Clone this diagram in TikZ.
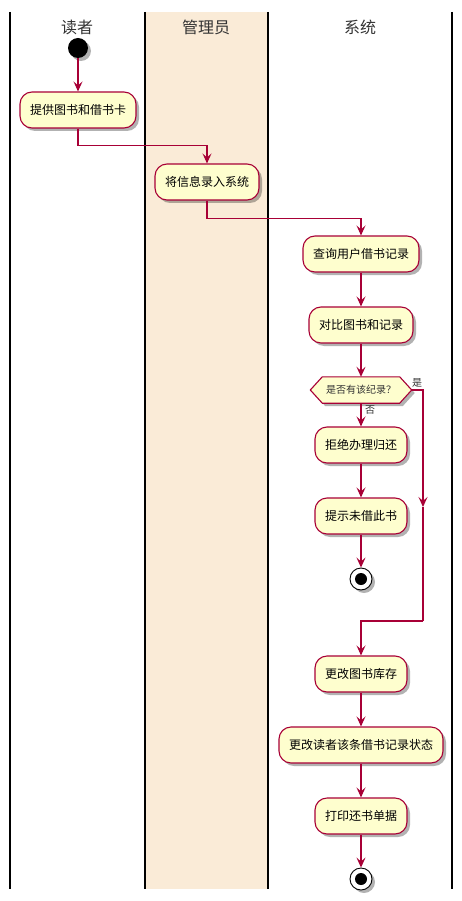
\documentclass[tikz,border=0pt]{standalone}
\usepackage{fontspec}
\newfontfamily\cjk{Noto Sans CJK SC}
\usetikzlibrary{arrows.meta,shadows,calc}
\definecolor{umlred}{HTML}{A80036}
\definecolor{umlfill}{HTML}{FEFECE}
\definecolor{lanefill}{HTML}{FAEBD7}
\begin{document}
\begin{tikzpicture}[x=1pt,y=-1pt,
  act/.style={draw=umlred, fill=umlfill, line width=1.1pt, rounded corners=12pt,
    minimum height=36pt, inner xsep=10pt, inner ysep=0pt,
    font=\cjk\fontsize{12}{14}\selectfont,
    drop shadow={shadow xshift=3pt,shadow yshift=-3pt,opacity=0.3,fill=black}},
  flow/.style={draw=umlred, line width=1.1pt, -{Stealth[length=10pt,width=9pt,inset=4pt]}},
  plainflow/.style={draw=umlred, line width=1.1pt},
  lanetitle/.style={font=\cjk\fontsize{16}{18}\selectfont, text=black!80},
  lane/.style={line width=1.4pt, draw=black},
  lbl/.style={font=\cjk\fontsize{10}{12}\selectfont, text=black!80, inner sep=0pt},
  startnode/.style={circle, fill=black, minimum size=20pt, inner sep=0pt,
    drop shadow={shadow xshift=3pt,shadow yshift=-3pt,opacity=0.3,fill=black}},
  stopnode/.style={circle, draw=black, fill=white, line width=0.9pt, minimum size=22pt, inner sep=0pt,
    drop shadow={shadow xshift=3pt,shadow yshift=-3pt,opacity=0.3,fill=black}}
]
\useasboundingbox (0,0) rectangle (462,901);
\fill[white] (0,0) rectangle (462,901);
% lanes
\fill[lanefill] (145,12) rectangle (268,889);
\draw[lane] (10,12) -- (10,889);
\draw[lane] (145,12) -- (145,889);
\draw[lane] (268,12) -- (268,889);
\draw[lane] (452,12) -- (452,889);
\node[lanetitle] (t1) at (77,27) {读者};
\node[lanetitle] (t2) at (206,27) {管理员};
\node[lanetitle] (t3) at (360,27) {系统};

% nodes
\node[startnode] (start) at (78,48) {};
\node[act] (n1) at (78,110) {提供图书和借书卡};
\node[act] (n2) at (207,182) {将信息录入系统};
\node[act] (n3) at (361,254) {查询用户借书记录};
\node[act] (n4) at (361,325) {对比图书和记录};
\node[minimum width=101pt, minimum height=26pt, inner sep=0pt] (dia) at (361,390) {};
\fill[black, opacity=0.3] ($(dia.west)+(3,3)$) -- ($(dia.north west)+(15,3)$) -- ($(dia.north east)+(-9,3)$)
   -- ($(dia.east)+(3,3)$) -- ($(dia.south east)+(-9,3)$) -- ($(dia.south west)+(15,3)$) -- cycle;
\draw[draw=umlred, fill=umlfill, line width=1.1pt] (dia.west) -- ($(dia.north west)+(12,0)$) -- ($(dia.north east)+(-12,0)$)
   -- (dia.east) -- ($(dia.south east)+(-12,0)$) -- ($(dia.south west)+(12,0)$) -- cycle;
\node[lbl] (dialbl) at (dia.center) {是否有该纪录？};
\node[act] (n5) at (361,445) {拒绝办理归还};
\node[act] (n6) at (361,516) {提示未借此书};
\node[stopnode] (end1) at (361,579) {};
\fill[black] (end1.center) circle (6pt);
\node[act] (n8) at (361,674) {更改图书库存};
\node[act] (n9) at (361,745) {更改读者该条借书记录状态};
\node[act] (n10) at (361,816) {打印还书单据};
\node[stopnode] (end2) at (361,879) {};
\fill[black] (end2.center) circle (6pt);

% connectors
\draw[flow] (start.south) -- (n1.north);
\draw[flow] (n1.south) -- ++(0,17) -| (n2.north);
\draw[flow] (n2.south) -- ++(0,18) -| (n3.north);
\draw[flow] (n3.south) -- (n4.north);
\draw[flow] (n4.south) -- (dia.north);
\draw[flow] (dia.south) -- (n5.north);
\node[lbl, anchor=west] (no) at (365,410) {否};
\node[lbl, anchor=west] (yes) at (412,383) {是};
\draw[flow] (n5.south) -- (n6.north);
\draw[flow] (n6.south) -- (end1.north);
\coordinate (mid) at (423,507);
\coordinate (bend) at (423,621);
\draw[flow] (dia.east) -| (mid);
\draw[plainflow] (mid) -- (bend);
\draw[flow] (bend) -| (n8.north);
\draw[flow] (n8.south) -- (n9.north);
\draw[flow] (n9.south) -- (n10.north);
\draw[flow] (n10.south) -- (end2.north);
\end{tikzpicture}
\end{document}
